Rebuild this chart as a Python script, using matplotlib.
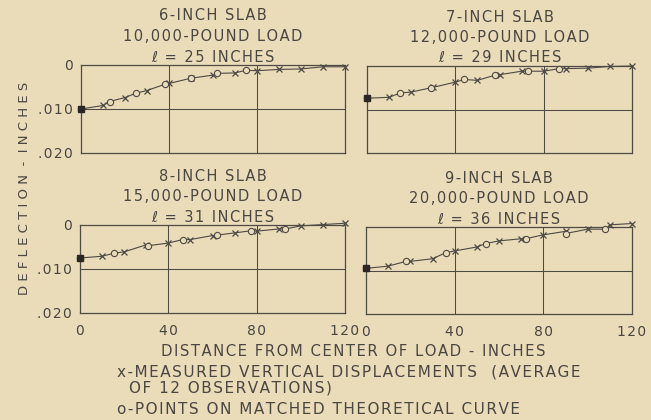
import numpy as np
import matplotlib
matplotlib.use("Agg")
import matplotlib.pyplot as plt

# slab panels: title lines
titles = [
    ("6-INCH SLAB", "10,000-POUND LOAD", "\u2113 = 25 INCHES"),
    ("7-INCH SLAB", "12,000-POUND LOAD", "\u2113 = 29 INCHES"),
    ("8-INCH SLAB", "15,000-POUND LOAD", "\u2113 = 31 INCHES"),
    ("9-INCH SLAB", "20,000-POUND LOAD", "\u2113 = 36 INCHES"),
]

# measured displacements (x marks), distance in inches, deflection in inches
meas_x = [0, 10, 20, 30, 40, 50, 60, 70, 80, 90, 100, 110, 120]
meas_6 = [.0100, .0092, .0074, .0058, .0042, .0030, .0023, .0018, .0013, .0010, .0009, .0004, .0004]
meas_7 = [.0074, .0072, .0060, .0049, .0037, .0033, .0020, .0012, .0012, .0006, .0005, .0001, .0000]
meas_8 = [.0075, .0071, .0061, .0045, .0041, .0033, .0024, .0018, .0014, .0009, .0002, -.0001, -.0004]
meas_9 = [.0095, .0090, .0079, .0073, .0055, .0046, .0032, .0027, .0018, .0010, .0005, -.0005, -.0008]

# matched theoretical curve (o marks)
theo_x6 = [0, 13, 25, 38, 50, 62, 75]
theo_6 = [.0100, .0083, .0064, .0044, .0030, .0019, .0012]
theo_x7 = [0, 15, 29, 44, 58, 73, 87]
theo_7 = [.0074, .0062, .0050, .0031, .0021, .0012, .0006]
theo_x8 = [0, 15.5, 31, 46.5, 62, 77.5, 93]
theo_8 = [.0075, .0064, .0047, .0033, .0023, .0013, .0009]
theo_x9 = [0, 18, 36, 54, 72, 90, 108]
theo_9 = [.0095, .0079, .0059, .0038, .0027, .0015, .0005]

x_ticks = [0, 40, 80, 120]
y_ticks = [0, .010, .020]
y_ticklabels = ["0", ".010", ".020"]

BG = "#eadbb9"
INK = "#4e4a44"
TXT = "#4a4641"

plt.rcParams["font.family"] = ["DejaVu Sans"]


def spaced(s, gap="\u200a"):
    """Widen lettering a bit, like the hand-lettered original."""
    return gap.join(s)


fig = plt.figure(figsize=(6.51, 4.20), dpi=100, facecolor=BG)

W, H = 651.0, 420.0
# panel boxes in pixels: left, top, right, bottom
boxes = [(81, 65, 345, 153), (367, 66, 632, 153),
         (80, 225, 345, 313), (366, 227, 632, 314)]

series = [(meas_6, theo_x6, theo_6), (meas_7, theo_x7, theo_7),
          (meas_8, theo_x8, theo_8), (meas_9, theo_x9, theo_9)]

for i, (box, (my, tx, ty), ttl) in enumerate(zip(boxes, series, titles)):
    l, t, r, b = box
    ax = fig.add_axes([l / W, 1 - b / H, (r - l) / W, (b - t) / H])
    ax.set_facecolor(BG)
    ax.set_xlim(0, 120)
    ax.set_ylim(0.020, 0)
    for s in ax.spines.values():
        s.set_color(INK)
        s.set_linewidth(0.9)
    for gx in (40, 80):
        ax.axvline(gx, color=INK, lw=0.75, zorder=1)
    ax.axhline(0.010, color=INK, lw=0.75, zorder=1)

    # curve through all points in order of distance
    allx = np.concatenate([meas_x, tx])
    ally = np.concatenate([my, ty])
    order = np.argsort(allx, kind="stable")
    ax.plot(allx[order], ally[order], color=INK, lw=0.8, zorder=2, clip_on=False)
    ax.plot(meas_x, my, ls="none", marker="x", ms=4.5, mew=0.9, color=INK,
            zorder=3, clip_on=False)
    ax.plot(tx, ty, ls="none", marker="o", ms=4.5, mew=0.8, mfc=BG, mec=INK,
            zorder=3, clip_on=False)
    ax.plot(meas_x[0], my[0], ls="none", marker="s", ms=4.5, color="#2a2725",
            zorder=4, clip_on=False)

    ax.tick_params(length=0, labelsize=10, colors=TXT)
    ax.tick_params(axis="x", pad=8)
    ax.tick_params(axis="y", pad=6)
    ax.set_xticks(x_ticks)
    ax.set_yticks(y_ticks)
    if i % 2 == 0:
        ax.set_yticklabels([spaced(v) for v in y_ticklabels])
    else:
        ax.set_yticklabels([])
    if i >= 2:
        ax.set_xticklabels([spaced(str(v)) for v in x_ticks])
    else:
        ax.set_xticklabels([])

    cx = (l + r) / 2 / W
    for k, line in enumerate(ttl):
        fig.text(cx, 1 - (t - 49 + 20.5 * k) / H, spaced(line), ha="center",
                 va="center", fontsize=10.5, color=TXT)

fig.text(25 / W, 1 - 188 / H, "D E F L E C T I O N  -  I N C H E S", rotation=90,
         ha="center", va="center", fontsize=9.5, color=TXT)
fig.text(353 / W, 1 - 352 / H, spaced("DISTANCE FROM CENTER OF LOAD - INCHES"),
         ha="center", va="center", fontsize=10.75, color=TXT)
fig.text(117 / W, 1 - 372 / H, spaced("x-MEASURED VERTICAL DISPLACEMENTS  (AVERAGE"),
         ha="left", va="center", fontsize=11, color=TXT)
fig.text(129 / W, 1 - 388 / H, spaced("OF 12 OBSERVATIONS)"),
         ha="left", va="center", fontsize=11, color=TXT)
fig.text(117 / W, 1 - 409 / H, spaced("o-POINTS ON MATCHED THEORETICAL CURVE"),
         ha="left", va="center", fontsize=11, color=TXT)

fig.savefig("out.png", dpi=100, facecolor=BG)
